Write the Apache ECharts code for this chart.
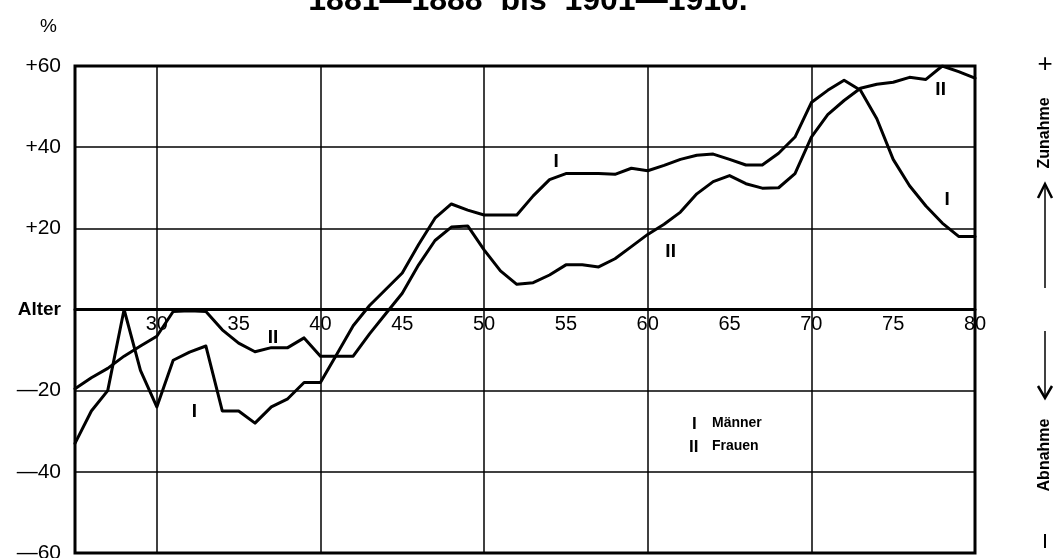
<!DOCTYPE html>
<html>
<head>
<meta charset="utf-8">
<script src="https://cdn.jsdelivr.net/npm/echarts@6/dist/echarts.min.js"></script>
<style>
html,body{margin:0;padding:0;background:#fff;}
#c{width:1056px;height:558px;}
</style>
</head>
<body>
<div id="c"></div>
<script>
// Alter (age)
const ages = [25,26,27,28,29,30,31,32,33,34,35,36,37,38,39,40,41,42,43,44,45,46,47,48,49,50,51,52,53,54,55,56,57,58,59,60,61,62,63,64,65,66,67,68,69,70,71,72,73,74,75,76,77,78,79,80];
// I  Männer (%)
const maenner = [-33,-25,-20,0,-15,-24,-12.5,-10.5,-9,-25,-25,-28,-24,-22,-18,-18,-11,-4,1,5,9,16,22.5,26,24.5,23.3,23.3,23.3,28,32,33.5,33.5,33.5,33.3,34.8,34.2,35.5,37,38,38.3,37,35.6,35.6,38.5,42.5,51,54,56.5,54,47,37,30.5,25.5,21.3,18,18];
// II Frauen (%)
const frauen = [-19.5,-16.8,-14.5,-11.5,-9,-6.6,-0.5,-0.3,-0.5,-5,-8.3,-10.4,-9.4,-9.4,-7,-11.5,-11.5,-11.5,-6,-1,4,11,17,20.3,20.6,14.7,9.5,6.2,6.6,8.5,11,11,10.5,12.5,15.5,18.5,21,24,28.5,31.5,33,31,29.9,30,33.5,42.5,48,51.5,54.5,55.5,56,57.2,56.7,60,58.6,57];
// vertical reference lines (ages)
const vLines = [30,40,50,60,70];
// x tick labels (ages shown along the zero line)
const xTickLabels = [30,35,40,45,50,55,60,65,70,75,80];
// y tick labels
const yTickValues = [60,40,20,0,-20,-40,-60];
const yTickLabels = ['+60','+40','+20','Alter','—20','—40','—60'];
// curve annotations [age, value, label]
const annotations = [[32.3,-25.3,'I'],[37.1,-7,'II'],[54.4,36.3,'I'],[61.4,14.3,'II'],[77.9,54.1,'II'],[78.3,27,'I']];
const titleText = '1881—1888  bis  1901—1910.';
const legendItems = [['I','Männer'],['II','Frauen']];

const chart = echarts.init(document.getElementById('c'), null, {renderer:'canvas'});
const F = 'Liberation Sans, Arial, sans-serif';

const lineCommon = {
  type:'line', showSymbol:false, symbol:'none', smooth:false,
  lineStyle:{color:'#000', width:3, join:'round', cap:'round'}, z:5, silent:true
};

chart.setOption({
  backgroundColor:'#fff',
  animation:false,
  grid:{left:75, right:81, top:66, bottom:5, containLabel:false, outerBoundsMode:'none',
    show:true, borderColor:'#000', borderWidth:3, backgroundColor:'transparent'},
  xAxis:{
    type:'value', min:25, max:80, interval:5,
    axisLine:{show:true, onZero:true, lineStyle:{color:'#000', width:3}},
    axisTick:{show:false},
    splitLine:{show:false},
    axisLabel:{show:false}
  },
  yAxis:{
    type:'value', min:-60, max:60, interval:20,
    axisLine:{show:false}, axisTick:{show:false},
    splitLine:{show:true, lineStyle:{color:'#000', width:1.5}},
    axisLabel:{
      color:'#000', fontFamily:F, fontSize:21, margin:14,
      formatter:v => {
        const i = yTickValues.indexOf(v);
        const s = i>=0 ? yTickLabels[i] : '';
        return v===0 ? '{b|'+s+'}' : s;
      },
      rich:{b:{fontWeight:'bold', fontSize:19, fontFamily:F, color:'#000'}}
    }
  },
  series:[
    Object.assign({}, lineCommon, {
      name:'Männer',
      data: ages.map((a,i)=>[a, maenner[i]]),
      markLine:{
        silent:true, symbol:'none', label:{show:false},
        lineStyle:{color:'#000', width:1.5, type:'solid'},
        data: vLines.map(x=>({xAxis:x}))
      }
    }),
    Object.assign({}, lineCommon, {
      name:'Frauen',
      data: ages.map((a,i)=>[a, frauen[i]])
    }),
    {
      type:'scatter', symbolSize:0, silent:true, z:6,
      itemStyle:{opacity:1, color:'#000'},
      data: annotations.map(d=>({value:[d[0],d[1]], name:d[2]})),
      label:{show:true, position:'inside', formatter:p=>p.name, color:'#000', opacity:1,
        fontFamily:F, fontWeight:'bold', fontSize:19}
    },
    {
      type:'scatter', symbolSize:0, silent:true, z:6,
      itemStyle:{opacity:1, color:'#000'},
      data: xTickLabels.map(v=>({value:[v,0], name:String(v)})),
      label:{show:true, position:'bottom', distance:5, formatter:p=>p.name, color:'#000', opacity:1,
        fontFamily:F, fontSize:20}
    }
  ],
  graphic:[
    {type:'text', left:'center', top:-15, style:{text:titleText, font:'bold 32px '+F, fill:'#000'}},
    {type:'text', x:40, y:17, style:{text:'%', font:'19px '+F, fill:'#000'}},
    // legend
    {type:'text', x:692, y:416, style:{text:legendItems[0][0], font:'bold 17px '+F, fill:'#000'}},
    {type:'text', x:712, y:416, style:{text:legendItems[0][1], font:'bold 14px '+F, fill:'#000'}},
    {type:'text', x:689, y:439, style:{text:legendItems[1][0], font:'bold 17px '+F, fill:'#000'}},
    {type:'text', x:712, y:439, style:{text:legendItems[1][1], font:'bold 14px '+F, fill:'#000'}},
    // right side annotations
    {type:'text', x:1045, y:65, style:{text:'+', font:'26px '+F, fill:'#000', align:'center', verticalAlign:'middle'}},
    {type:'text', x:1045, y:133, rotation:Math.PI/2, style:{text:'Zunahme', font:'bold 16px '+F, fill:'#000', align:'center', verticalAlign:'middle'}},
    {type:'line', shape:{x1:1045,y1:184,x2:1045,y2:288}, style:{stroke:'#000', lineWidth:1.5}},
    {type:'polyline', shape:{points:[[1038,198],[1045,184],[1052,198]]}, style:{stroke:'#000', lineWidth:2.5, fill:null}},
    {type:'line', shape:{x1:1045,y1:331,x2:1045,y2:398}, style:{stroke:'#000', lineWidth:1.5}},
    {type:'polyline', shape:{points:[[1038,386],[1045,398],[1052,386]]}, style:{stroke:'#000', lineWidth:2.5, fill:null}},
    {type:'text', x:1045, y:455, rotation:Math.PI/2, style:{text:'Abnahme', font:'bold 16px '+F, fill:'#000', align:'center', verticalAlign:'middle'}},
    {type:'line', shape:{x1:1045,y1:534,x2:1045,y2:548}, style:{stroke:'#000', lineWidth:2}}
  ]
});
</script>
</body>
</html>
